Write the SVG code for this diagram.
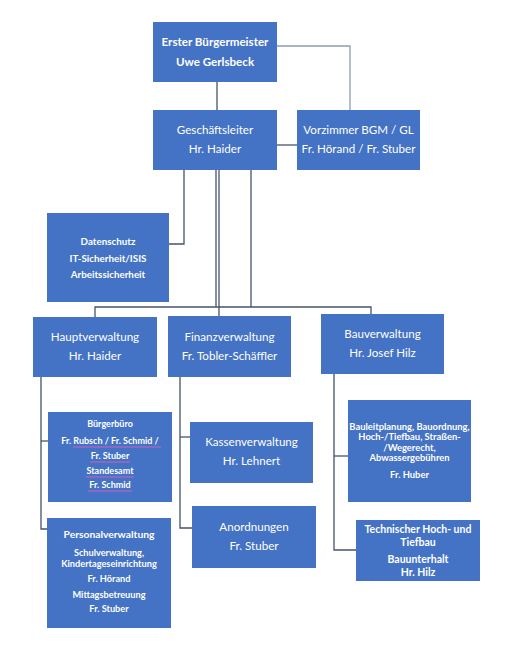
<svg xmlns="http://www.w3.org/2000/svg" width="530" height="658" viewBox="0 0 530 658">
<style>
rect.box{fill:#4472C4}
text{font-family:Lato,"Liberation Sans",sans-serif;fill:#ffffff;text-anchor:middle}
.b{font-weight:bold}
.n{font-size:11.6px}
.h{font-size:11.6px}
.s{font-size:9px;font-weight:bold}
.d{font-size:9.8px;font-weight:bold}
.k{font-size:9.2px;font-weight:bold}
.q{font-size:9.4px;font-weight:bold}
.m{font-size:10.3px;font-weight:bold}
.t{font-size:10.5px;font-weight:bold}
#connectors path{fill:none;stroke:#44546A;stroke-width:1.3}
#connectors path.light{stroke:#8A9DB5}
.ul{stroke:#D060B8;stroke-width:1}
</style>
<rect width="530" height="658" fill="#ffffff"/>
<g id="connectors">
<path d="M217,82 V110"/>
<path class="light" d="M277,46 H350 V110"/>
<path d="M277,145 H297"/>
<path d="M184,170 V244 H169"/>
<path d="M216,170 V307"/>
<path d="M251,170 V307"/>
<path d="M219,170 V316"/>
<path d="M95,317 V307 H371 V314"/>
<path d="M41,377 V529 H47"/>
<path d="M41,441 H48"/>
<path d="M180,377 V528 H192"/>
<path d="M180,437 H190"/>
<path d="M334,374 V550 H356"/>
<path d="M334,456 H348"/>
</g>
<g id="bgm"><rect class="box" x="153" y="22" width="124" height="60"/>
<text class="h b" x="215" y="46">Erster Bürgermeister</text>
<text class="h b" x="215" y="66">Uwe Gerlsbeck</text></g>
<g id="gl"><rect class="box" x="153" y="110" width="124" height="60"/>
<text class="h" x="215" y="134">Geschäftsleiter</text>
<text class="h" x="215" y="153">Hr. Haider</text></g>
<g id="vz"><rect class="box" x="297" y="110" width="123" height="60"/>
<text class="h" x="358.5" y="134">Vorzimmer BGM / GL</text>
<text class="h" x="358.5" y="153">Fr. Hörand / Fr. Stuber</text></g>
<g id="ds"><rect class="box" x="47" y="213" width="122" height="89"/>
<text class="d" x="108" y="245">Datenschutz</text>
<text class="d" x="108" y="262">IT-Sicherheit/ISIS</text>
<text class="d" x="108" y="278">Arbeitssicherheit</text></g>
<g id="hv"><rect class="box" x="33" y="317" width="124" height="60"/>
<text class="n" x="95" y="341">Hauptverwaltung</text>
<text class="n" x="95" y="360">Hr. Haider</text></g>
<g id="fv"><rect class="box" x="168" y="316" width="123" height="61"/>
<text class="n" x="229.5" y="341">Finanzverwaltung</text>
<text class="n" x="229.5" y="360">Fr. Tobler-Schäffler</text></g>
<g id="bv"><rect class="box" x="321" y="314" width="123" height="60"/>
<text class="n" x="382.5" y="338">Bauverwaltung</text>
<text class="n" x="382.5" y="357">Hr. Josef Hilz</text></g>
<g id="bb"><rect class="box" x="48" y="412" width="124" height="90"/>
<text class="s" x="110" y="427">Bürgerbüro</text>
<text class="s" x="110" y="444">Fr. Rubsch / Fr. Schmid /</text>
<text class="s" x="110" y="459">Fr. Stuber</text>
<text class="s" x="110" y="474">Standesamt</text>
<text class="s" x="110" y="488">Fr. Schmid</text>
<line class="ul" x1="73" y1="447" x2="161" y2="447"/>
<line class="ul" x1="90" y1="462" x2="130" y2="462"/>
<line class="ul" x1="86" y1="477" x2="134" y2="477"/>
<line class="ul" x1="88" y1="491" x2="132" y2="491"/></g>
<g id="pv"><rect class="box" x="47" y="518" width="124" height="110"/>
<text class="m" x="109" y="538">Personalverwaltung</text>
<text class="k" x="109" y="556">Schulverwaltung,</text>
<text class="k" x="109" y="566.5">Kindertageseinrichtung</text>
<text class="k" x="109" y="582">Fr. Hörand</text>
<text class="k" x="109" y="598">Mittagsbetreuung</text>
<text class="k" x="109" y="612">Fr. Stuber</text></g>
<g id="kv"><rect class="box" x="190" y="422" width="123" height="61"/>
<text class="n" x="251.5" y="446">Kassenverwaltung</text>
<text class="n" x="251.5" y="465">Hr. Lehnert</text></g>
<g id="an"><rect class="box" x="192" y="506" width="124" height="62"/>
<text class="n" x="254" y="531">Anordnungen</text>
<text class="n" x="254" y="550">Fr. Stuber</text></g>
<g id="bl"><rect class="box" x="348" y="400" width="123" height="102"/>
<text class="q" x="409.5" y="430">Bauleitplanung, Bauordnung,</text>
<text class="q" x="409.5" y="440">Hoch-/Tiefbau, Straßen-</text>
<text class="q" x="409.5" y="450.5">/Wegerecht,</text>
<text class="q" x="409.5" y="461">Abwassergebühren</text>
<text class="q" x="409.5" y="478">Fr. Huber</text></g>
<g id="th"><rect class="box" x="356" y="520" width="124" height="61"/>
<text class="t" x="418" y="533">Technischer Hoch- und</text>
<text class="t" x="418" y="546">Tiefbau</text>
<text class="t" x="418" y="563">Bauunterhalt</text>
<text class="t" x="418" y="576">Hr. Hilz</text></g>
</svg>
